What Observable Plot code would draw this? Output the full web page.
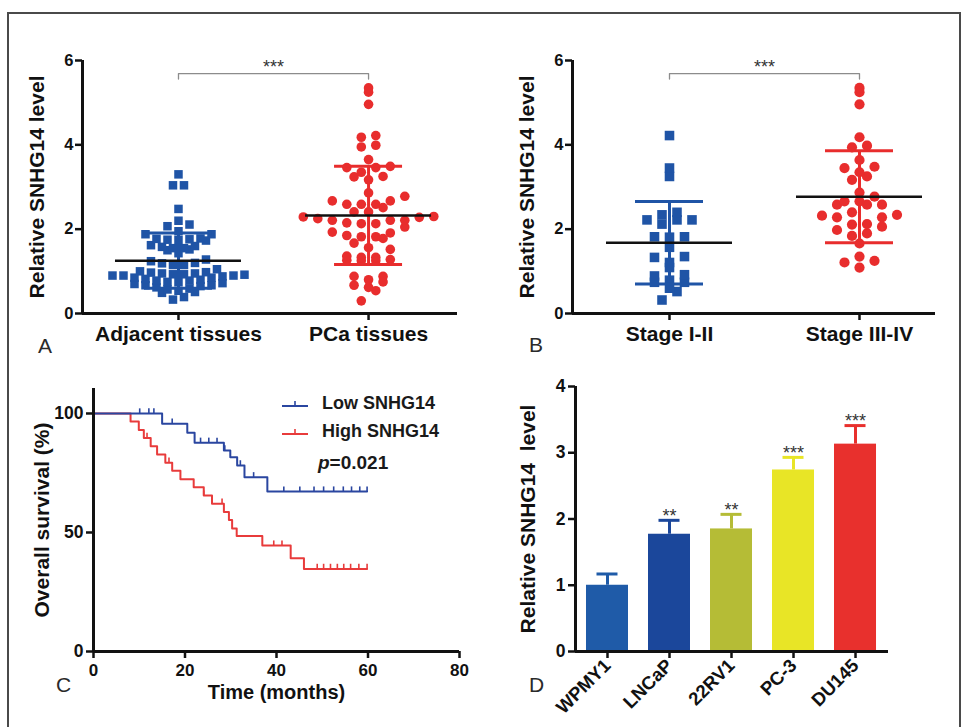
<!DOCTYPE html>
<html>
<head>
<meta charset="utf-8">
<script src="https://cdn.jsdelivr.net/npm/d3@7"></script>
<script src="https://cdn.jsdelivr.net/npm/@observablehq/plot@0.6"></script>
<style>
  html,body{margin:0;padding:0;background:#fff;}
  #fig{position:relative;width:966px;height:727px;overflow:hidden;background:#fff;font-family:"Liberation Sans",Arial,Helvetica,sans-serif;}
  .frame{position:absolute;left:7px;top:12px;width:950px;height:740px;border:2px solid #4a4a4a;}
  .panel{position:absolute;}
  .letter{position:absolute;font-size:21px;line-height:21px;color:#2a2a2a;}
  .leg{position:absolute;font-size:18px;line-height:18px;color:#1a1a1a;white-space:nowrap;font-weight:bold;}
</style>
</head>
<body>
<div id="fig"><div class="frame"></div></div>
<script>
// ---------------- DATA ----------------
const groupsA = ["Adjacent tissues", "PCa tissues"];
const adjacentTissues = [3.30, 3.04, 3.04, 2.48, 2.20, 2.11, 2.07, 1.95, 1.88, 1.88,
  1.78, 1.76, 1.74, 1.73, 1.75, 1.77, 1.62, 1.58, 1.55, 1.52,
  1.50, 1.55, 1.60, 1.43, 1.28, 1.24, 1.19, 1.15, 1.15, 1.20,
  1.05, 1.00, 0.98, 0.95, 0.93, 0.92, 0.90, 0.88, 0.90, 0.93,
  0.95, 0.97, 0.85, 0.82, 0.80, 0.78, 0.75, 0.72, 0.70, 0.67,
  0.67, 0.59, 0.57, 0.54, 0.51, 0.49, 0.39, 0.33, 0.62, 0.65, 0.75, 0.78, 0.85, 0.90];
const pcaTissues = [5.35, 5.25, 4.96, 4.22, 4.18, 3.99, 3.95, 3.65, 3.46, 3.46,
  3.49, 3.35, 3.24, 3.25, 3.17, 2.86, 2.78, 2.67, 2.67, 2.59,
  2.59, 2.59, 2.51, 2.41, 2.41, 2.29, 2.21, 2.21, 2.13, 2.05,
  2.13, 2.21, 2.25, 2.30, 2.15, 2.28, 1.85, 1.82, 1.67, 1.56,
  1.78, 1.82, 1.91, 1.93, 1.26, 1.25, 1.33, 1.28, 1.25, 1.33,
  1.36, 1.52, 0.88, 0.75, 0.62, 0.67, 0.54, 0.80, 0.88, 0.30];

const groupsB = ["Stage I-II", "Stage III-IV"];
const stageI_II = [4.22, 3.45, 3.25, 2.34, 2.40, 2.22, 2.12, 2.22, 2.22, 1.82,
  1.81, 1.82, 1.57, 1.35, 1.33, 1.09, 1.21, 0.89, 0.92, 0.74,
  0.74, 0.79, 0.60, 0.52, 0.32];
const stageIII_IV = [5.35, 5.25, 4.96, 4.18, 3.98, 3.94, 3.64, 3.45, 3.48, 3.25,
  3.35, 3.17, 2.87, 2.77, 2.66, 2.66, 2.58, 2.58, 2.58, 2.40,
  2.34, 2.32, 2.28, 2.28, 2.12, 2.06, 2.11, 1.98, 1.90, 1.84,
  1.66, 1.25, 1.35, 1.21, 1.09];
const scatterYTicks = [0, 2, 4, 6];
const significanceAB = "***";

const survivalGroups = ["Low SNHG14", "High SNHG14"];
const lowStepTimes = [15.0, 20.5, 22.1, 28.5, 29.9, 31.4, 33.0, 38.0];
const lowStepSurv  = [95.7, 91.9, 87.7, 84.5, 81.6, 78.2, 73.2, 67.2];
const lowCensored  = [10.1, 12.1, 13.2, 17.2, 23.4, 25.2, 27.0, 28.7, 32.1, 35.0,
  41.6, 45.1, 48.2, 50.3, 52.5, 54.6, 56.4, 58.2, 59.8];
const highStepTimes = [8.1, 9.9, 11.0, 12.5, 13.9, 15.7, 17.2, 19.0, 21.9, 24.1,
  25.9, 28.5, 29.6, 30.3, 31.3, 36.9, 43.1, 46.0];
const highStepSurv  = [96.6, 93.1, 89.7, 86.2, 82.8, 79.3, 75.9, 72.4, 69.0, 65.5,
  62.1, 58.6, 55.2, 51.7, 48.5, 44.5, 39.2, 34.7];
const highCensored = [11.7, 16.5, 24.1, 28.1, 39.4, 41.2, 48.9, 50.3, 51.8, 53.3,
  54.7, 56.2, 58.0, 59.8];
const survivalXTicks = [0, 20, 40, 60, 80];
const survivalYTicks = [0, 50, 100];
const pValueText = "0.021";

const cellLines = ["WPMY1", "LNCaP", "22RV1", "PC-3", "DU145"];
const cellMean  = [1.00, 1.77, 1.85, 2.74, 3.13];
const cellSD    = [0.17, 0.21, 0.22, 0.19, 0.28];
const cellStars = ["", "**", "**", "***", "***"];
const cellColors = ["#1f5ba8", "#1b479b", "#b5bc36", "#e8e526", "#e8302d"];
const cellYTicks = [0, 1, 2, 3, 4];

// ---------------- STYLE ----------------
const BLUE = "#1f54a6", RED = "#e82d2d";
const CURVE_BLUE = "#2a46a0", CURVE_RED = "#e83b3b";
const FONT = "Liberation Sans, Arial, Helvetica, sans-serif";
const fig = document.getElementById("fig");

function place(node, left, top) {
  const wrap = document.createElement("div");
  wrap.className = "panel";
  wrap.style.left = left + "px";
  wrap.style.top = top + "px";
  wrap.appendChild(node);
  fig.appendChild(wrap);
}

// GraphPad-like column scatter: bin by value, spread horizontally, lowest at centre
function swarm(values, binH, gapPx) {
  const sorted = [...values].sort((a, b) => a - b);
  const lo = sorted[0];
  const bins = d3.groups(sorted, v => Math.floor((v - lo) / binH));
  const out = [];
  for (const [, vs] of bins) {
    const k = vs.length;
    const slots = d3.range(k).map(j => j - (k - 1) / 2)
      .sort((a, b) => Math.abs(a) - Math.abs(b) || a - b);
    vs.forEach((v, i) => out.push({v, off: slots[i] * gapPx}));
  }
  return out;
}

function scatterPanel({groups, series, xDomain, width, height, margin, radii, gaps, bins}) {
  const innerW = width - margin.left - margin.right;
  const ppu = innerW / (xDomain[1] - xDomain[0]);
  const symbols = ["square", "circle"];
  const colors = [BLUE, RED];
  const marks = [];
  series.forEach((vals, g) => {
    const pts = swarm(vals, bins[g], gaps[g]).map(p => ({x: g + p.off / ppu, v: p.v}));
    marks.push(Plot.dot(pts, {x: "x", y: "v", symbol: symbols[g], fill: colors[g], r: radii[g]}));
  });
  const stats = series.map((vals, g) => ({g, mean: d3.mean(vals), sd: d3.deviation(vals)}));
  const capHalf = 34 / ppu, meanHalf = 63 / ppu;
  stats.forEach(s => {
    marks.push(Plot.ruleX([s], {x: "g", y1: d => d.mean - d.sd, y2: d => d.mean + d.sd, stroke: colors[s.g], strokeWidth: 3}));
    marks.push(Plot.ruleY([s], {y: d => d.mean + d.sd, x1: d => d.g - capHalf, x2: d => d.g + capHalf, stroke: colors[s.g], strokeWidth: 3}));
    marks.push(Plot.ruleY([s], {y: d => d.mean - d.sd, x1: d => d.g - capHalf, x2: d => d.g + capHalf, stroke: colors[s.g], strokeWidth: 3}));
  });
  marks.push(Plot.ruleY(stats, {y: "mean", x1: d => d.g - meanHalf, x2: d => d.g + meanHalf, stroke: "#111", strokeWidth: 2.5}));
  // significance bracket
  const bl = 5.69;
  marks.push(Plot.line([[0, bl - 0.13], [0, bl], [1, bl], [1, bl - 0.13]], {stroke: "#8c8c8c", strokeWidth: 1.3}));
  marks.push(Plot.text([significanceAB], {x: 0.5, y: bl, dy: -6, fontSize: 18, fill: "#333", fontWeight: "normal"}));
  // axes
  marks.push(Plot.ruleX([xDomain[0]], {y1: 0, y2: 6, strokeWidth: 3, stroke: "#111"}));
  marks.push(Plot.ruleY([0], {strokeWidth: 3, stroke: "#111"}));
  marks.push(Plot.axisY({ticks: scatterYTicks, tickFormat: d => String(d), tickSize: 7, tickPadding: 2, strokeWidth: 2.5, fontSize: 16.5, fontWeight: "bold", label: null}));
  marks.push(Plot.axisX({ticks: [0, 1], tickFormat: i => groups[i], tickSize: 7, tickPadding: 6, strokeWidth: 2.5, fontSize: 21, fontWeight: "bold", label: null}));
  marks.push(Plot.text(["Relative SNHG14 level"], {frameAnchor: "left", textAnchor: "middle", dx: -45, rotate: -90, fontSize: 21, fontWeight: "bold", fill: "#111"}));
  return Plot.plot({
    width, height,
    marginLeft: margin.left, marginRight: margin.right, marginTop: margin.top, marginBottom: margin.bottom,
    style: {fontFamily: FONT, color: "#111", background: "transparent", overflow: "visible"},
    x: {domain: xDomain},
    y: {domain: [0, 6]},
    marks
  });
}

// ---------- Panel A ----------
place(scatterPanel({groups: groupsA, series: [adjacentTissues, pcaTissues],
  xDomain: [-0.505, 1.468], width: 450, height: 330,
  margin: {left: 62, right: 13, top: 20, bottom: 57},
  radii: [4.8, 4.8], gaps: [11, 14.5], bins: [0.2, 0.25]}), 20, 40);

// ---------- Panel B ----------
place(scatterPanel({groups: groupsB, series: [stageI_II, stageIII_IV],
  xDomain: [-0.5105, 1.4], width: 450, height: 330,
  margin: {left: 62, right: 25, top: 20, bottom: 57},
  radii: [5.4, 5.1], gaps: [15, 15], bins: [0.22, 0.25]}), 510, 40);

// ---------- Panel C ----------
function stepCurve(times, surv, endT) {
  const pts = [{t: 0, s: 100}];
  times.forEach((t, i) => pts.push({t, s: surv[i]}));
  pts.push({t: endT, s: surv[surv.length - 1]});
  return pts;
}
function survAt(times, surv, t) {
  let s = 100;
  times.forEach((tt, i) => { if (tt <= t) s = surv[i]; });
  return s;
}
const censorSymbol = {draw(ctx, size) { const h = Math.sqrt(size); ctx.moveTo(0, 0); ctx.lineTo(0, -h); }};
const lowCurve = stepCurve(lowStepTimes, lowStepSurv, d3.max(lowCensored));
const highCurve = stepCurve(highStepTimes, highStepSurv, d3.max(highCensored));
const lowCens = lowCensored.map(t => ({t, s: survAt(lowStepTimes, lowStepSurv, t)}));
const highCens = highCensored.map(t => ({t, s: survAt(highStepTimes, highStepSurv, t)}));

place(Plot.plot({
  width: 460, height: 340,
  marginLeft: 73, marginRight: 21, marginTop: 13, marginBottom: 64,
  style: {fontFamily: FONT, color: "#111", background: "transparent", overflow: "visible"},
  x: {domain: [0, 80]},
  y: {domain: [0, 110.5]},
  marks: [
    Plot.line(highCurve, {x: "t", y: "s", curve: "step-after", stroke: CURVE_RED, strokeWidth: 2}),
    Plot.line(lowCurve, {x: "t", y: "s", curve: "step-after", stroke: CURVE_BLUE, strokeWidth: 2}),
    Plot.dot(highCens, {x: "t", y: "s", symbol: censorSymbol, r: 2.9, fill: "none", stroke: CURVE_RED, strokeWidth: 1.6}),
    Plot.dot(lowCens, {x: "t", y: "s", symbol: censorSymbol, r: 2.9, fill: "none", stroke: CURVE_BLUE, strokeWidth: 1.6}),
    Plot.ruleX([0], {y1: 0, y2: 110.5, strokeWidth: 3, stroke: "#111"}),
    Plot.ruleY([0], {strokeWidth: 3, stroke: "#111"}),
    Plot.axisY({ticks: survivalYTicks, tickFormat: d => String(d), tickSize: 7, tickPadding: 3, strokeWidth: 2.5, fontSize: 17.5, fontWeight: "bold", label: null}),
    Plot.axisX({ticks: survivalXTicks, tickFormat: d => String(d), tickSize: 7, tickPadding: 5, strokeWidth: 2.5, fontSize: 17, fontWeight: "bold", label: null}),
    Plot.text(["Overall survival (%)"], {frameAnchor: "left", textAnchor: "middle", dx: -51, rotate: -90, fontSize: 21, fontWeight: "bold", fill: "#111"}),
    Plot.text(["Time (months)"], {frameAnchor: "bottom", dy: 47, fontSize: 20, fontWeight: "bold", fill: "#111"})
  ]
}), 20, 375);

// legend for C (overlay)
function legendRow(color, label, left, top) {
  const d = document.createElement("div");
  d.className = "leg";
  d.style.left = left + "px";
  d.style.top = top + "px";
  d.innerHTML = `<svg width="27" height="12" style="vertical-align:middle;margin-right:13px;overflow:visible"><line x1="0" y1="8" x2="26" y2="8" stroke="${color}" stroke-width="2"/><line x1="13" y1="8" x2="13" y2="3" stroke="${color}" stroke-width="1.6"/></svg>${label}`;
  fig.appendChild(d);
}
legendRow(CURVE_BLUE, survivalGroups[0], 282, 394);
legendRow(CURVE_RED, survivalGroups[1], 282, 422);
{
  const p = document.createElement("div");
  p.className = "leg";
  p.style.left = "318px"; p.style.top = "453px"; p.style.fontSize = "19px"; p.style.lineHeight = "19px";
  p.innerHTML = `<i>p</i>=${pValueText}`;
  fig.appendChild(p);
}

// ---------- Panel D ----------
const cells = cellLines.map((line, i) => ({i, line, mean: cellMean[i], sd: cellSD[i], stars: cellStars[i]}));
const dPpu = 313 / (4.532 + 0.516);
const barHalf = 21 / dPpu, dCap = 10.5 / dPpu;
place(Plot.plot({
  width: 440, height: 345,
  marginLeft: 65, marginRight: 62, marginTop: 11, marginBottom: 69,
  style: {fontFamily: FONT, color: "#111", background: "transparent", overflow: "visible"},
  x: {domain: [-0.516, 4.532]},
  y: {domain: [0, 4]},
  color: {domain: cellLines, range: cellColors},
  marks: [
    Plot.rectY(cells, {x1: d => d.i - barHalf, x2: d => d.i + barHalf, y1: 0, y2: "mean", fill: "line"}),
    Plot.ruleX(cells, {x: "i", y1: "mean", y2: d => d.mean + d.sd, stroke: "line", strokeWidth: 3}),
    Plot.ruleY(cells, {y: d => d.mean + d.sd, x1: d => d.i - dCap, x2: d => d.i + dCap, stroke: "line", strokeWidth: 3}),
    Plot.text(cells, {x: "i", y: d => d.mean + d.sd, text: "stars", dy: -4, fontSize: 18, fill: "#333", fontWeight: "normal"}),
    Plot.ruleX([-0.516], {y1: 0, y2: 4, strokeWidth: 3, stroke: "#111"}),
    Plot.ruleY([0], {strokeWidth: 3, stroke: "#111"}),
    Plot.axisY({ticks: cellYTicks, tickFormat: d => String(d), tickSize: 7, tickPadding: 3, strokeWidth: 2.5, fontSize: 17.5, fontWeight: "bold", label: null}),
    Plot.axisX({ticks: d3.range(cellLines.length), tickFormat: i => cellLines[i], tickRotate: -45, tickSize: 7, tickPadding: 4, strokeWidth: 2.5, fontSize: 18.5, fontWeight: "bold", label: null}),
    Plot.text(["Relative SNHG14  level"], {frameAnchor: "left", textAnchor: "middle", dx: -47, rotate: -90, fontSize: 21, fontWeight: "bold", fill: "#111"})
  ]
}), 510, 375);

// ---------- Panel letters ----------
[["A", 38, 335], ["B", 529, 334], ["C", 56, 674], ["D", 529, 674]].forEach(([t, l, tp]) => {
  const d = document.createElement("div");
  d.className = "letter";
  d.style.left = l + "px"; d.style.top = tp + "px";
  d.textContent = t;
  fig.appendChild(d);
});
</script>
</body>
</html>
